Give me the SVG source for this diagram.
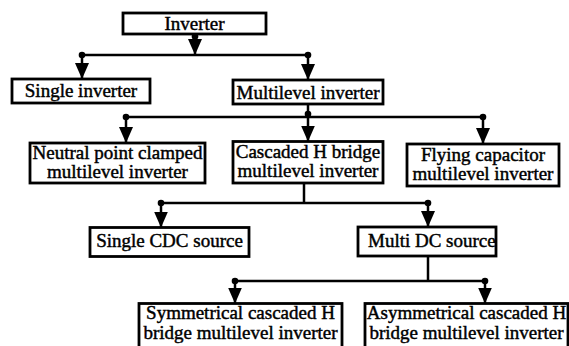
<svg xmlns="http://www.w3.org/2000/svg" width="569" height="346" viewBox="0 0 569 346">
  <defs>
    <marker id="arrow" viewBox="0 0 16 14" refX="16" refY="7" markerWidth="16" markerHeight="14" markerUnits="userSpaceOnUse" orient="auto">
      <path d="M0,0 L16,7 L0,14 z" fill="#000"/>
    </marker>
    <marker id="dot" viewBox="-4 -4 8 8" refX="0" refY="0" markerWidth="8" markerHeight="8" markerUnits="userSpaceOnUse" orient="auto">
      <circle cx="0" cy="0" r="3.3" fill="#000"/>
    </marker>
    <style>
      .box { fill: #fff; stroke: #000; stroke-width: 2.8; }
      .t { font-family: "Liberation Serif", "Times New Roman", serif; font-size: 19px; fill: #000; stroke: #000; stroke-width: 0.45; text-anchor: middle; }
      .ln { fill: none; stroke: #000; stroke-width: 2.5; }
      .ar { fill: none; stroke: #000; stroke-width: 2.5; marker-start: url(#dot); marker-end: url(#arrow); }
    </style>
  </defs>

  <g id="connectors">
    <path class="ar" d="M195,36.5 V55"/>
    <path class="ln" d="M82,55 H308"/>
    <path class="ar" d="M82,55 V79"/>
    <path class="ar" d="M308,55 V80"/>

    <path class="ln" d="M308,104 V117"/>
    <path class="ar" d="M308,114 V141.5"/>
    <path class="ln" d="M126,117 H483"/>
    <path class="ar" d="M126,117 V143"/>
    <path class="ar" d="M483,117 V144"/>

    <path class="ln" d="M304,183 V203"/>
    <path class="ln" d="M161,203 H428"/>
    <path class="ar" d="M161,203 V227.5"/>
    <path class="ar" d="M428,203 V227"/>

    <path class="ln" d="M428,256 V281"/>
    <path class="ln" d="M235,281 H485"/>
    <path class="ar" d="M235,281 V303.5"/>
    <path class="ar" d="M485,281 V303.5"/>
  </g>

  <g id="inverter">
    <rect class="box" x="123" y="13" width="143" height="21"/>
    <text class="t" x="194.5" y="30">Inverter</text>
  </g>
  <g id="single-inverter">
    <rect class="box" x="12" y="79" width="138" height="24"/>
    <text class="t" x="81" y="97">Single inverter</text>
  </g>
  <g id="multilevel-inverter">
    <rect class="box" x="233" y="80" width="150" height="24"/>
    <text class="t" x="308" y="99">Multilevel inverter</text>
  </g>
  <g id="npc">
    <rect class="box" x="30" y="143" width="175" height="40"/>
    <text class="t" x="117.5" y="159">Neutral point clamped</text>
    <text class="t" x="117.5" y="178">multilevel inverter</text>
  </g>
  <g id="chb">
    <rect class="box" x="233" y="141.5" width="150" height="41.5"/>
    <text class="t" x="308" y="158">Cascaded H bridge</text>
    <text class="t" x="308" y="177">multilevel inverter</text>
  </g>
  <g id="flying">
    <rect class="box" x="407" y="144" width="152" height="42"/>
    <text class="t" x="483" y="161">Flying capacitor</text>
    <text class="t" x="483" y="180">multilevel inverter</text>
  </g>
  <g id="single-cdc">
    <rect class="box" x="90" y="227.5" width="159" height="29"/>
    <text class="t" x="169.5" y="247">Single CDC source</text>
  </g>
  <g id="multi-dc">
    <rect class="box" x="358" y="227" width="138" height="29"/>
    <text class="t" x="368" y="247" style="text-anchor:start">Multi DC source</text>
  </g>
  <g id="symmetrical">
    <rect class="box" x="139" y="303.5" width="203" height="44"/>
    <text class="t" x="240.5" y="319">Symmetrical cascaded H</text>
    <text class="t" x="240.5" y="339">bridge multilevel inverter</text>
  </g>
  <g id="asymmetrical">
    <rect class="box" x="365" y="303.5" width="203" height="44"/>
    <text class="t" x="466.5" y="319">Asymmetrical cascaded H</text>
    <text class="t" x="466.5" y="339">bridge multilevel inverter</text>
  </g>
</svg>
